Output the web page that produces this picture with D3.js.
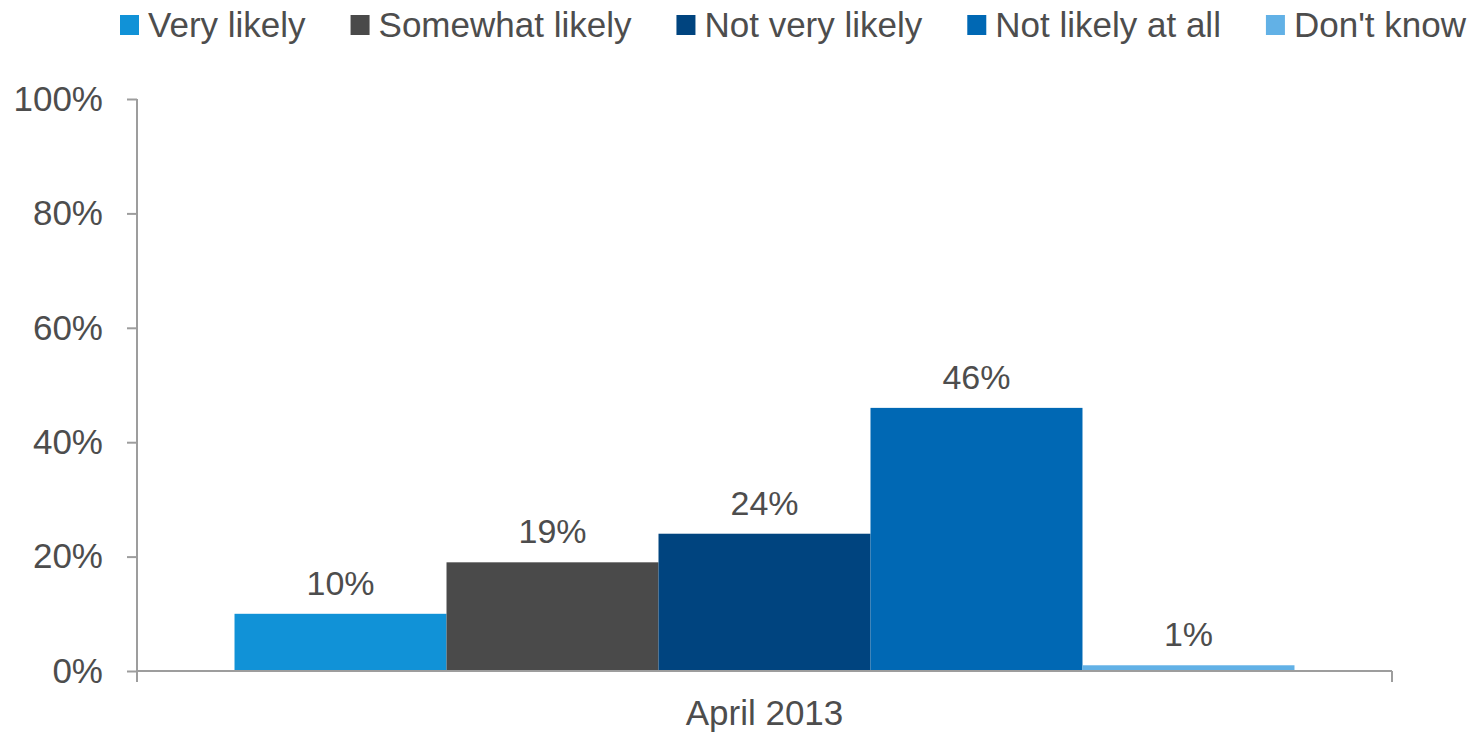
<!DOCTYPE html>
<html>
<head>
<meta charset="utf-8">
<script src="https://cdn.jsdelivr.net/npm/d3@7"></script>
<style>
  html, body { margin: 0; padding: 0; background: #ffffff; }
  svg { display: block; }
  text { font-family: "Liberation Sans", Arial, sans-serif; fill: #4d4d4d; }
</style>
</head>
<body>
<svg id="chart" width="1481" height="734"></svg>
<script>
// Survey responses, April 2013
const categories = ["April 2013"];
const seriesNames = ["Very likely", "Somewhat likely", "Not very likely", "Not likely at all", "Don't know"];
const seriesValues = [10, 19, 24, 46, 1];
const seriesColors = ["#1192d7", "#4a4a4a", "#00447f", "#0068b4", "#62b1e6"];
const yTicks = [0, 20, 40, 60, 80, 100];

const svg = d3.select("#chart");
const margin = { left: 137, right: 89, top: 99, bottom: 62 };
const W = 1481, H = 734;
const x0 = margin.left, x1 = W - margin.right;
const yTop = margin.top, yBottom = H - margin.bottom - 1;

const x = d3.scaleBand().domain(categories).range([x0, x1]).paddingInner(0).paddingOuter(0.092);
const xs = d3.scaleBand().domain(seriesNames).range([0, x.bandwidth()]).padding(0);
const y = d3.scaleLinear().domain([0, 100]).range([yBottom, yTop]);

const axisColor = "#9d9d9d";

// y axis
const yAxis = d3.axisLeft(y).tickValues(yTicks).tickFormat(d => d + "%").tickSize(10).tickPadding(24);
const gy = svg.append("g").attr("transform", `translate(${x0},0)`).call(yAxis);
gy.select(".domain").remove();
gy.selectAll(".tick line").attr("stroke", axisColor).attr("stroke-width", 2);
gy.selectAll(".tick text").attr("font-size", 35).attr("fill", "#4d4d4d")
  .style("font-family", "'Liberation Sans', Arial, sans-serif");
svg.append("line").attr("x1", x0).attr("x2", x0).attr("y1", yTop).attr("y2", yBottom + 11)
  .attr("stroke", axisColor).attr("stroke-width", 2);

// bars
const g = svg.append("g");
categories.forEach(cat => {
  seriesNames.forEach((s, i) => {
    const bx = x(cat) + xs(s);
    g.append("rect")
      .attr("x", bx).attr("width", xs.bandwidth())
      .attr("y", y(seriesValues[i])).attr("height", y(0) - y(seriesValues[i]))
      .attr("fill", seriesColors[i]);
    g.append("text")
      .attr("x", bx + xs.bandwidth() / 2).attr("y", y(seriesValues[i]) - 19)
      .attr("text-anchor", "middle").attr("font-size", 34)
      .text(seriesValues[i] + "%");
  });
});

// x axis
svg.append("line").attr("x1", x0).attr("x2", x1).attr("y1", yBottom).attr("y2", yBottom)
  .attr("stroke", axisColor).attr("stroke-width", 2);
svg.append("line").attr("x1", x1).attr("x2", x1).attr("y1", yBottom).attr("y2", yBottom + 11)
  .attr("stroke", axisColor).attr("stroke-width", 2);
categories.forEach(cat => {
  svg.append("text").attr("x", x(cat) + x.bandwidth() / 2).attr("y", 725)
    .attr("text-anchor", "middle").attr("font-size", 35).text(cat);
});

// legend
const legend = svg.append("g");
let lx = 120;
seriesNames.forEach((s, i) => {
  legend.append("rect").attr("x", lx).attr("y", 15).attr("width", 19).attr("height", 20)
    .attr("fill", seriesColors[i]);
  const t = legend.append("text").attr("x", lx + 28).attr("y", 37).attr("font-size", 35).text(s);
  lx += 28 + t.node().getComputedTextLength() + 45;
});
</script>
</body>
</html>
